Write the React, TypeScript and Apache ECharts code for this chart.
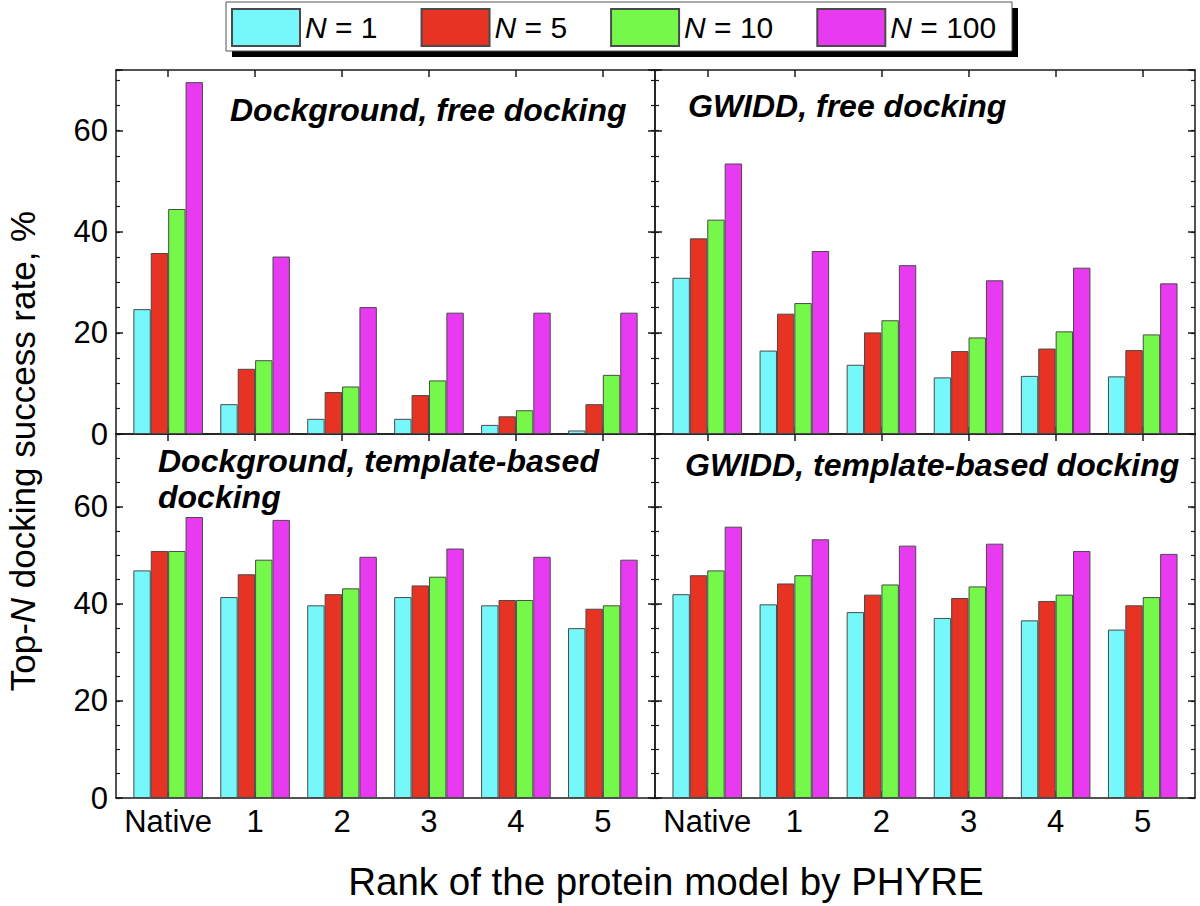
import React, { useEffect, useRef } from "react";
import * as echarts from "echarts";

const categories = ["Native", "1", "2", "3", "4", "5"];
const seriesNames = ["N = 1", "N = 5", "N = 10", "N = 100"];
const seriesColors = ["#76F8FB", "#E73323", "#76F84B", "#E83AF0"];

// Dockground, free docking
const dockFreeN1 = [24.7, 5.9, 3.0, 3.0, 1.8, 0.7];
const dockFreeN5 = [35.8, 12.9, 8.3, 7.7, 3.5, 5.9];
const dockFreeN10 = [44.5, 14.6, 9.4, 10.6, 4.7, 11.7];
const dockFreeN100 = [69.6, 35.1, 25.1, 24.0, 24.0, 24.0];

// GWIDD, free docking
const gwiddFreeN1 = [30.9, 16.5, 13.7, 11.2, 11.5, 11.4];
const gwiddFreeN5 = [38.7, 23.8, 20.1, 16.4, 16.9, 16.6];
const gwiddFreeN10 = [42.4, 25.9, 22.5, 19.1, 20.3, 19.7];
const gwiddFreeN100 = [53.5, 36.2, 33.4, 30.4, 32.9, 29.8];

// Dockground, template-based docking
const dockTmplN1 = [46.9, 41.4, 39.7, 41.4, 39.7, 35.0];
const dockTmplN5 = [50.9, 46.1, 42.0, 43.8, 40.8, 39.0];
const dockTmplN10 = [50.9, 49.1, 43.2, 45.6, 40.8, 39.7];
const dockTmplN100 = [57.9, 57.3, 49.7, 51.4, 49.7, 49.1];

// GWIDD, template-based docking
const gwiddTmplN1 = [42.0, 39.9, 38.3, 37.1, 36.6, 34.7];
const gwiddTmplN5 = [45.9, 44.2, 41.9, 41.2, 40.6, 39.7];
const gwiddTmplN10 = [46.9, 45.9, 44.0, 43.6, 41.9, 41.4];
const gwiddTmplN100 = [55.9, 53.3, 52.0, 52.4, 50.9, 50.3];

const yMaxTop = 72;
const yMaxBottom = 75;
const xTickValues = [0, 1, 2, 3, 4, 5];

const FONT = "'Liberation Sans', Arial, Helvetica, sans-serif";
const AX = "#1a1a1a";

export default function App() {
  const ref = useRef<HTMLDivElement>(null);

  useEffect(() => {
    if (!ref.current) return;
    const chart = echarts.init(ref.current, null, { renderer: "svg" });

    const panels = [
      { left: 116, top: 70, width: 539, height: 364, ymax: yMaxTop, xl: false, yl: true, data: [dockFreeN1, dockFreeN5, dockFreeN10, dockFreeN100] },
      { left: 655, top: 70, width: 540, height: 364, ymax: yMaxTop, xl: false, yl: false, data: [gwiddFreeN1, gwiddFreeN5, gwiddFreeN10, gwiddFreeN100] },
      { left: 116, top: 434, width: 539, height: 364, ymax: yMaxBottom, xl: true, yl: true, data: [dockTmplN1, dockTmplN5, dockTmplN10, dockTmplN100] },
      { left: 655, top: 434, width: 540, height: 364, ymax: yMaxBottom, xl: true, yl: false, data: [gwiddTmplN1, gwiddTmplN5, gwiddTmplN10, gwiddTmplN100] },
    ];

    const grids: any[] = [];
    const xAxes: any[] = [];
    const yAxes: any[] = [];
    const series: any[] = [];

    panels.forEach((p, g) => {
      grids.push({ left: p.left, top: p.top, width: p.width, height: p.height, containLabel: false });
      ["bottom", "top"].forEach((pos) => {
        xAxes.push({
          gridIndex: g,
          type: "value",
          position: pos,
          min: -0.6,
          max: 5.6,
          axisLine: { show: true, onZero: false, lineStyle: { color: AX, width: 1.5 } },
          axisTick: { show: true, inside: true, length: 7, customValues: xTickValues, lineStyle: { color: AX, width: 1.5 } },
          axisLabel: {
            show: pos === "bottom" && p.xl,
            customValues: xTickValues,
            formatter: (v: number) => categories[Math.round(v)] ?? "",
            fontSize: 31,
            fontFamily: FONT,
            color: "#000",
            margin: 8,
          },
          splitLine: { show: false },
        });
      });
      ["left", "right"].forEach((pos) => {
        yAxes.push({
          gridIndex: g,
          type: "value",
          position: pos,
          min: 0,
          max: p.ymax,
          interval: 20,
          axisLine: { show: true, onZero: false, lineStyle: { color: AX, width: 1.5 } },
          axisTick: { show: true, inside: true, length: 7, lineStyle: { color: AX, width: 1.5 } },
          axisLabel: {
            show: pos === "left" && p.yl,
            formatter: (v: number) => (v % 20 === 0 ? String(v) : ""),
            fontSize: 31,
            fontFamily: FONT,
            color: "#000",
            margin: 8,
          },
          splitLine: { show: false },
        });
        yAxes.push({
          gridIndex: g,
          type: "value",
          position: pos,
          min: 0,
          max: p.ymax,
          interval: 5,
          axisLine: { show: false, onZero: false },
          axisTick: { show: true, inside: true, length: 4, lineStyle: { color: AX, width: 1.2 } },
          axisLabel: { show: false },
          splitLine: { show: false },
        });
      });
      p.data.forEach((arr, k) => {
        series.push({
          type: "bar",
          name: seriesNames[k],
          xAxisIndex: g * 2,
          yAxisIndex: g * 4,
          data: arr.map((v, i) => [i, v]),
          barWidth: 17.4,
          barGap: "0%",
          itemStyle: { color: seriesColors[k], borderColor: "#4a4a4a", borderWidth: 1 },
        });
      });
    });

    const titleStyle = (text: string) => ({
      text,
      fontSize: 32,
      fontWeight: "bold",
      fontStyle: "italic",
      fontFamily: FONT,
      fill: "#000",
      align: "left",
      verticalAlign: "middle",
      textAlign: "left",
      textVerticalAlign: "middle",
    });

    chart.setOption({
      animation: false,
      backgroundColor: "#fff",
      color: seriesColors,
      legend: {
        data: seriesNames,
        icon: "rect",
        left: 231,
        top: 8,
        itemWidth: 68,
        itemHeight: 37,
        itemGap: 43,
        padding: 0,
        selectedMode: false,
        z: 10,
        formatter: (name: string) => "{i|N}" + name.slice(1),
        textStyle: {
          fontSize: 30,
          fontFamily: FONT,
          color: "#000",
          rich: { i: { fontStyle: "italic", fontSize: 30, fontFamily: FONT, color: "#000" } },
        },
      },
      grid: grids,
      xAxis: xAxes,
      yAxis: yAxes,
      series,
      graphic: [
        { type: "rect", z: 1, shape: { x: 232, y: 8, width: 786, height: 49 }, style: { fill: "#000" } },
        { type: "rect", z: 2, shape: { x: 226, y: 2, width: 786, height: 49 }, style: { fill: "#fff", stroke: "#555", lineWidth: 1 } },
        { type: "text", z: 20, x: 230, y: 110, style: titleStyle("Dockground, free docking") },
        { type: "text", z: 20, x: 688, y: 106, style: titleStyle("GWIDD, free docking") },
        { type: "text", z: 20, x: 158, y: 461, style: titleStyle("Dockground, template-based") },
        { type: "text", z: 20, x: 158, y: 497, style: titleStyle("docking") },
        { type: "text", z: 20, x: 685, y: 465, style: titleStyle("GWIDD, template-based docking") },
        {
          type: "text",
          z: 20,
          x: 22,
          y: 451,
          rotation: Math.PI / 2,
          style: {
            rich: { i: { fontStyle: "italic", fontSize: 35, fontFamily: FONT, fill: "#000" } },
            text: "Top-{i|N} docking success rate, %",
            fontSize: 35,
            fontFamily: FONT,
            fill: "#000",
            align: "center",
            verticalAlign: "middle",
            textAlign: "center",
            textVerticalAlign: "middle",
          },
        },
        {
          type: "text",
          z: 20,
          x: 666,
          y: 881,
          style: {
            text: "Rank of the protein model by PHYRE",
            fontSize: 38.5,
            fontFamily: FONT,
            fill: "#000",
            align: "center",
            verticalAlign: "middle",
            textAlign: "center",
            textVerticalAlign: "middle",
          },
        },
      ],
    });

    return () => chart.dispose();
  }, []);

  return (
    <div
      ref={ref}
      style={{ position: "fixed", left: 0, top: 0, width: 1200, height: 906, background: "#fff" }}
    />
  );
}
